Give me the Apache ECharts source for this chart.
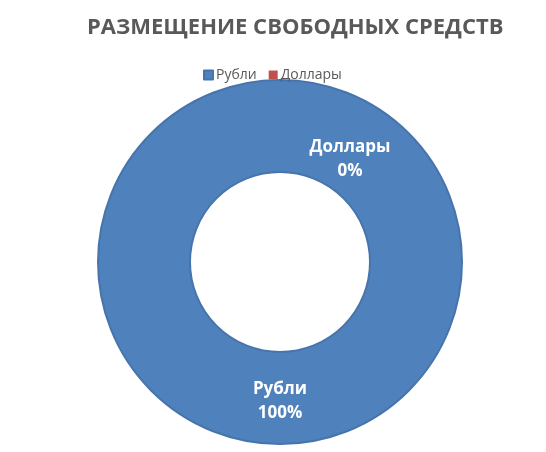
<!DOCTYPE html>
<html>
<head>
    <meta charset="UTF-8">
    <title>ECharts</title>
    <script src="https://cdn.jsdelivr.net/npm/echarts@6/dist/echarts.min.js"></script>
    <style>
        html, body { margin: 0; width: 100%; height: 100%; background: #fff; }
        #main { width: 546px; height: 452px; }
    </style>
</head>
<body>
    <div id="main"></div>
    <script type="text/javascript">
        // данные диаграммы
        var categories = ['Рубли', 'Доллары'];
        var values = [100, 0];
        var colors = ['#4f81bd', '#c0504d'];

        var data = [];
        for (var i = 0; i < categories.length; i++) {
            var item = {
                name: categories[i],
                value: values[i],
                itemStyle: { color: colors[i] }
            };
            // нулевая доля: без обводки, подпись сдвинута вручную, как в исходнике
            if (values[i] === 0) {
                item.itemStyle.borderWidth = 0;
                item.label = { offset: [70, 36] };
            }
            data.push(item);
        }

        var myChart = echarts.init(document.getElementById('main'));

        var option = {
            animation: false,
            title: {
                text: 'РАЗМЕЩЕНИЕ СВОБОДНЫХ СРЕДСТВ',
                left: 82,
                top: 12,
                textStyle: {
                    fontFamily: 'Open Sans',
                    fontWeight: 'bold',
                    fontSize: 22,
                    color: '#595959'
                }
            },
            legend: {
                top: 63,
                left: 198,
                itemWidth: 9,
                itemHeight: 9,
                itemGap: 12,
                icon: 'rect',
                data: categories,
                textStyle: {
                    fontFamily: 'Open Sans',
                    fontSize: 14,
                    color: '#595959',
                    padding: [0, 0, 0, -2]
                }
            },
            series: [{
                type: 'pie',
                center: [280, 262],
                radius: [90, 182],
                startAngle: 90,
                clockwise: true,
                avoidLabelOverlap: false,
                itemStyle: {
                    borderColor: '#4674ab',
                    borderWidth: 2
                },
                label: {
                    show: true,
                    position: 'inside',
                    formatter: '{b}\n{d}%',
                    fontFamily: 'Open Sans',
                    fontWeight: 'bold',
                    fontSize: 17,
                    lineHeight: 24,
                    color: '#ffffff'
                },
                labelLine: { show: false },
                emphasis: { disabled: true },
                data: data
            }]
        };

        myChart.setOption(option);
    </script>
</body>
</html>
